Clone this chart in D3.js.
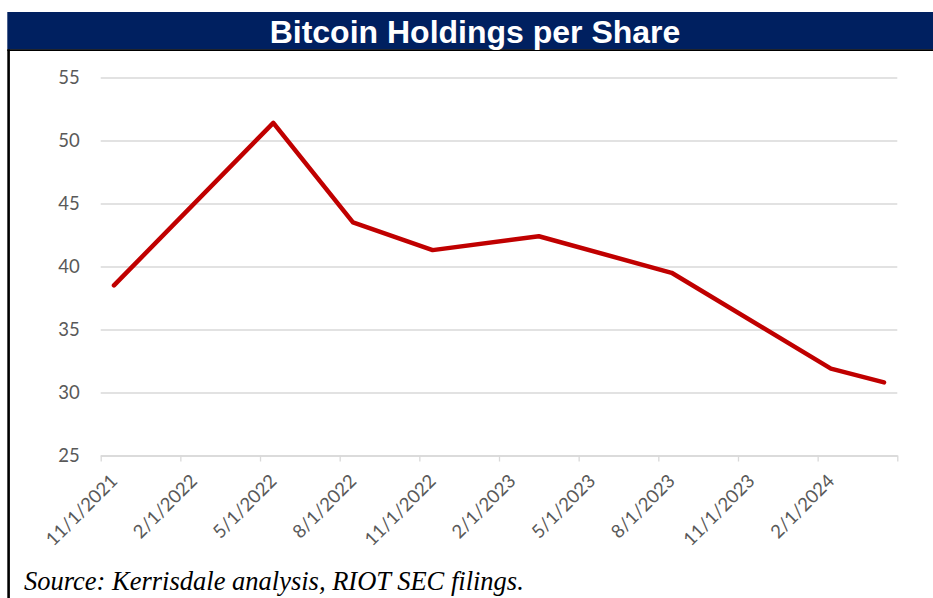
<!DOCTYPE html>
<html>
<head>
<meta charset="utf-8">
<script src="https://cdn.jsdelivr.net/npm/d3@7"></script>
<style>
  html, body { margin: 0; padding: 0; background: #fff; }
  #graph { width: 933px; height: 598px; }
</style>
</head>
<body>
<div id="graph"></div>
<script>
/*******************************************************************************
* Data
*******************************************************************************/
var pointMonths = ["2021-11", "2022-05", "2022-08", "2022-11", "2023-03", "2023-08", "2024-02", "2024-04"];
var holdingsPerShare = [38.5, 51.4, 43.5, 41.3, 42.4, 39.5, 31.9, 30.8];
var tickLabels = ["11/1/2021", "2/1/2022", "5/1/2022", "8/1/2022", "11/1/2022",
  "2/1/2023", "5/1/2023", "8/1/2023", "11/1/2023", "2/1/2024"];
var yTicks = [25, 30, 35, 40, 45, 50, 55];
var axisStartMonth = "2021-11";
var axisEndMonth = "2024-05";

var titleText = "Bitcoin Holdings per Share";
var sourceText = "Source: Kerrisdale analysis, RIOT SEC filings.";

/*******************************************************************************
* Svg Container
*******************************************************************************/
var fullWidth = 933;
var fullHeight = 598;
var plotLeft = 100.7;
var plotRight = 897.3;
var plotTop = 77.5;
var plotBottom = 455.5;

var container = d3.select("#graph").append("svg")
  .attr("width", fullWidth)
  .attr("height", fullHeight);

/*******************************************************************************
* scales (date axis in whole months, points sit in the middle of their month)
*******************************************************************************/
var parseMonth = d3.utcParse("%Y-%m");
var parseLabel = d3.utcParse("%m/%d/%Y");
var startDate = parseMonth(axisStartMonth);
var monthOffset = function(date){ return d3.utcMonth.count(startDate, date); };

var x = d3.scaleLinear()
  .domain([0, monthOffset(parseMonth(axisEndMonth))])
  .range([plotLeft, plotRight]);

var y = d3.scaleLinear()
  .domain([d3.min(yTicks), d3.max(yTicks)])
  .range([plotBottom, plotTop]);

var lineData = pointMonths.map(function(m, i){
  return { pos: monthOffset(parseMonth(m)) + 0.5, value: holdingsPerShare[i] };
});

/*******************************************************************************
* title bar + frame
*******************************************************************************/
container.append("rect")
  .attr("x", 7.3)
  .attr("y", 12)
  .attr("width", fullWidth - 7.3)
  .attr("height", 37.5)
  .style("fill", "#002060");

container.append("line")
  .attr("x1", 7.3).attr("x2", fullWidth)
  .attr("y1", 50.2).attr("y2", 50.2)
  .style("stroke", "#000")
  .style("stroke-width", 1.7);

container.append("line")
  .attr("x1", 8.6).attr("x2", 8.6)
  .attr("y1", 49.5).attr("y2", fullHeight)
  .style("stroke", "#000")
  .style("stroke-width", 2.6);

container.append("text")
  .attr("x", 475)
  .attr("y", 43)
  .attr("text-anchor", "middle")
  .style("font-family", "'Liberation Sans', Arial, sans-serif")
  .style("font-weight", "bold")
  .style("font-size", "32px")
  .style("fill", "#fff")
  .text(titleText);

/*******************************************************************************
* y axis + gridlines
*******************************************************************************/
var yAxis = container.append("g")
  .attr("transform", "translate(" + plotLeft + ",0)")
  .call(d3.axisLeft(y)
    .tickValues(yTicks)
    .tickSizeInner(-(plotRight - plotLeft))
    .tickSizeOuter(0)
    .tickPadding(21));

yAxis.select(".domain").remove();
yAxis.selectAll(".tick line")
  .style("stroke", "#d9d9d9")
  .style("stroke-width", 1.3);
yAxis.selectAll(".tick text")
  .style("font-family", "Lato, 'Open Sans', sans-serif")
  .style("font-size", "18.5px")
  .style("fill", "#595959");

/*******************************************************************************
* x axis
*******************************************************************************/
var tickPositions = tickLabels.map(function(l){ return monthOffset(parseLabel(l)); });
tickPositions.push(x.domain()[1]);

var xAxis = container.append("g")
  .attr("transform", "translate(0," + plotBottom + ")")
  .call(d3.axisBottom(x)
    .tickValues(tickPositions)
    .tickSizeInner(6)
    .tickSizeOuter(0)
    .tickFormat(""));

xAxis.select(".domain")
  .style("stroke", "#d9d9d9")
  .style("stroke-width", 1.3);
xAxis.selectAll(".tick line")
  .style("stroke", "#d9d9d9")
  .style("stroke-width", 1.3);

container.append("g").selectAll("text")
  .data(tickLabels)
  .enter()
  .append("text")
  .attr("transform", function(d){
    return "translate(" + x(monthOffset(parseLabel(d)) + 0.5) + "," + (plotBottom + 22) + ") rotate(-45)";
  })
  .attr("text-anchor", "end")
  .attr("dy", "0.35em")
  .style("font-family", "Lato, 'Open Sans', sans-serif")
  .style("font-size", "18.5px")
  .style("fill", "#595959")
  .text(function(d){ return d; });

/*******************************************************************************
* line
*******************************************************************************/
var line = d3.line()
  .x(function(d){ return x(d.pos); })
  .y(function(d){ return y(d.value); });

container.append("path")
  .datum(lineData)
  .attr("d", line)
  .style("fill", "none")
  .style("stroke", "#c00000")
  .style("stroke-width", 4.5)
  .style("stroke-linejoin", "round")
  .style("stroke-linecap", "round");

/*******************************************************************************
* source note
*******************************************************************************/
container.append("text")
  .attr("x", 24)
  .attr("y", 590)
  .style("font-family", "'Liberation Serif', 'Times New Roman', serif")
  .style("font-style", "italic")
  .style("font-size", "26.5px")
  .style("fill", "#000")
  .text(sourceText);
</script>
</body>
</html>
